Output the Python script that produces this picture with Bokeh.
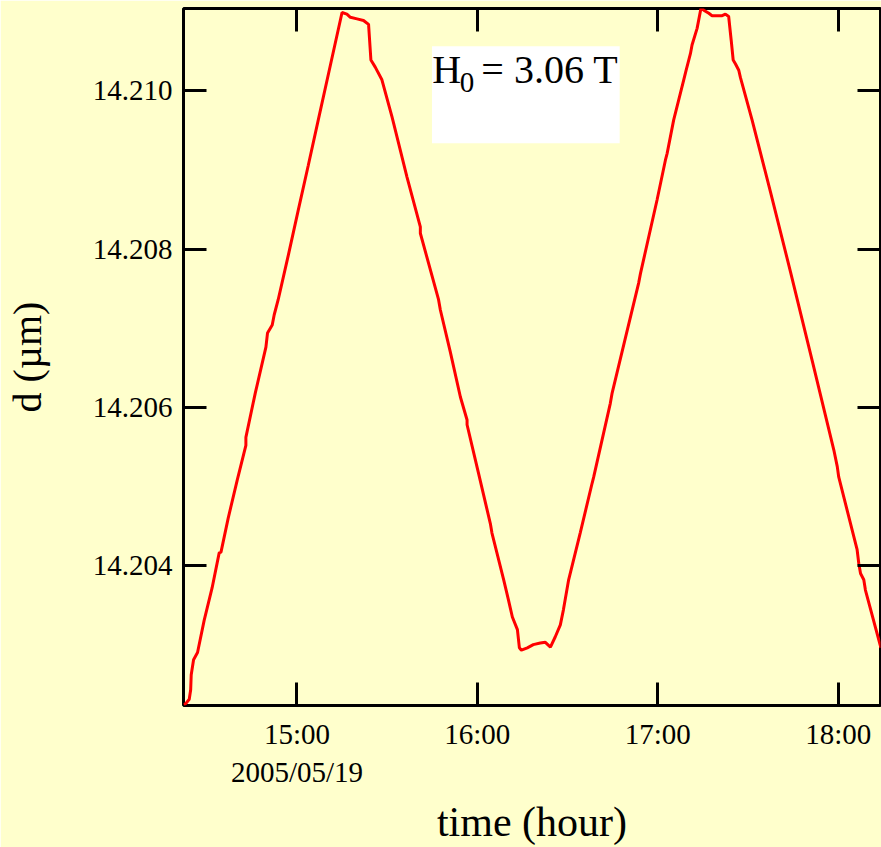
from bokeh.plotting import figure
from bokeh.models import (Range1d, LinearAxis, FixedTicker, NumeralTickFormatter,
                          CustomJSTickFormatter, BoxAnnotation, Label)
from bokeh.embed import file_html
from bokeh.resources import INLINE

# time of day in hours, measured film thickness d in micrometres
time_h = [14.372, 14.386, 14.403, 14.411, 14.414, 14.427, 14.449, 14.486, 14.530, 14.569,
          14.579, 14.619, 14.669, 14.717, 14.717, 14.769, 14.828, 14.837, 14.863, 14.874,
          14.896, 14.952, 15.007, 15.063, 15.118, 15.185, 15.250, 15.277, 15.296, 15.333,
          15.369, 15.397, 15.410, 15.434, 15.471, 15.527, 15.536, 15.610, 15.684, 15.684,
          15.785, 15.795, 15.850, 15.906, 15.943, 15.943, 16.005, 16.072, 16.081, 16.146,
          16.172, 16.194, 16.222, 16.233, 16.244, 16.277, 16.310, 16.349, 16.377, 16.405,
          16.432, 16.460, 16.477, 16.506, 16.571, 16.636, 16.645, 16.737, 16.747, 16.821,
          16.894, 16.904, 16.996, 17.042, 17.052, 17.088, 17.144, 17.157, 17.181, 17.190,
          17.218, 17.240, 17.255, 17.283, 17.301, 17.357, 17.375, 17.393, 17.407, 17.418,
          17.431, 17.449, 17.458, 17.523, 17.625, 17.736, 17.858, 17.976, 17.995, 18.003,
          18.105, 18.114, 18.124, 18.142, 18.151, 18.237]
d_um = [14.20224, 14.20226, 14.20231, 14.20243, 14.20262, 14.20281, 14.20290, 14.20331, 14.20372, 14.20416,
        14.20417, 14.20460, 14.20508, 14.20552, 14.20562, 14.20618, 14.20676, 14.20694, 14.20704, 14.20717,
        14.20736, 14.20792, 14.20849, 14.20906, 14.20963, 14.21032, 14.21099, 14.21097, 14.21093, 14.21091,
        14.21089, 14.21084, 14.21039, 14.21030, 14.21014, 14.20967, 14.20959, 14.20891, 14.20828, 14.20820,
        14.20736, 14.20723, 14.20670, 14.20613, 14.20584, 14.20578, 14.20518, 14.20453, 14.20441, 14.20382,
        14.20357, 14.20335, 14.20319, 14.20296, 14.20293, 14.20296, 14.20300, 14.20302, 14.20303, 14.20297,
        14.20310, 14.20325, 14.20344, 14.20382, 14.20442, 14.20504, 14.20512, 14.20605, 14.20618, 14.20688,
        14.20757, 14.20769, 14.20862, 14.20912, 14.20921, 14.20963, 14.21014, 14.21026, 14.21047, 14.21058,
        14.21079, 14.21105, 14.21102, 14.21098, 14.21095, 14.21095, 14.21097, 14.21094, 14.21064, 14.21039,
        14.21034, 14.21026, 14.21017, 14.20963, 14.20872, 14.20771, 14.20657, 14.20546, 14.20525, 14.20512,
        14.20420, 14.20403, 14.20390, 14.20382, 14.20369, 14.20296]

x_ticks = [15, 16, 17, 18]
x_tick_labels = ["15:00\n2005/05/19", "16:00", "17:00", "18:00"]
y_ticks = [14.204, 14.206, 14.208, 14.210]

BG = "#FFFFCC"
FONT = "Liberation Serif"

p = figure(width=881, height=847, output_backend="svg", toolbar_location=None,
           x_range=Range1d(14.3712, 18.2346), y_range=Range1d(14.202231, 14.211041),
           min_border_left=183, min_border_right=1, min_border_top=8, min_border_bottom=142,
           background_fill_color=BG, border_fill_color=BG,
           x_axis_location=None, y_axis_location=None)
p.grid.visible = False
p.outline_line_color = "black"
p.outline_line_width = 3
p.outline_line_alpha = 1


def style_axis(ax):
    ax.axis_line_color = None
    ax.major_tick_in = 23
    ax.major_tick_out = 0
    ax.major_tick_line_width = 3
    ax.major_tick_line_color = "black"
    ax.minor_tick_line_color = None
    ax.major_label_text_font = FONT
    ax.major_label_text_color = "black"
    ax.axis_label_text_font = FONT
    ax.axis_label_text_font_style = "normal"
    ax.axis_label_text_color = "black"


xb = LinearAxis(ticker=FixedTicker(ticks=x_ticks),
                major_label_overrides={t: s for t, s in zip(x_ticks, x_tick_labels)},
                axis_label="time (hour)")
style_axis(xb)
xb.major_label_text_font_size = "29px"
xb.major_label_standoff = 12
xb.axis_label_text_font_size = "42px"
xb.axis_label_standoff = 8
p.add_layout(xb, "below")

yl = LinearAxis(ticker=FixedTicker(ticks=y_ticks),
                formatter=NumeralTickFormatter(format="0.000"),
                axis_label="d (µm)")
style_axis(yl)
yl.major_label_text_font_size = "29px"
yl.major_label_standoff = 11
yl.axis_label_text_font_size = "40px"
yl.axis_label_standoff = 40
p.add_layout(yl, "left")

# mirrored tick marks on the top and right edges, without labels
blank = CustomJSTickFormatter(code="return ''")
xt = LinearAxis(ticker=FixedTicker(ticks=x_ticks), formatter=blank)
style_axis(xt)
xt.major_label_text_font_size = "1px"
xt.major_label_standoff = 0
p.add_layout(xt, "above")

yr = LinearAxis(ticker=FixedTicker(ticks=y_ticks), formatter=blank)
style_axis(yr)
yr.major_label_text_font_size = "1px"
yr.major_label_standoff = 0
p.add_layout(yr, "right")

p.line(time_h, d_um, line_color="#FF0000", line_width=3)

# field annotation on a white panel
p.add_layout(BoxAnnotation(left=15.7486, right=16.7889, top=14.210565, bottom=14.209339,
                           fill_color="white", fill_alpha=1, line_color=None))
p.add_layout(Label(x=15.7497, y=14.21027, text="H", text_font=FONT, text_font_size="40px",
                   text_baseline="alphabetic", text_align="left", text_color="black"))
p.add_layout(Label(x=15.902, y=14.21010, text="0", text_font=FONT, text_font_size="29px",
                   text_baseline="alphabetic", text_align="left", text_color="black"))
p.add_layout(Label(x=16.022, y=14.21027, text="= 3.06 T", text_font=FONT, text_font_size="40px",
                   text_baseline="alphabetic", text_align="left", text_color="black"))

open("out.html", "w").write(file_html(p, INLINE))
